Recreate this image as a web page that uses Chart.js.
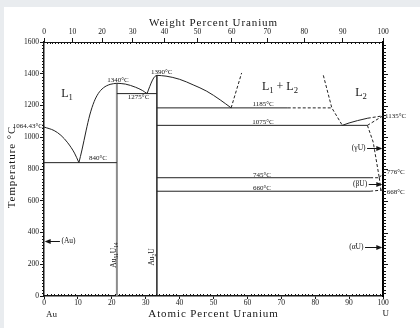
<!DOCTYPE html>
<html>
<head>
<meta charset="utf-8">
<script src="https://cdn.jsdelivr.net/npm/chart.js@4.4.1/dist/chart.umd.min.js"></script>
<style>
    html, body { margin: 0; padding: 0; background: #e9ecef; }
    #wrap { width: 420px; height: 328px; }
</style>
</head>
<body>
<div id="wrap"><canvas id="au-u-chart" width="420" height="328"></canvas></div>
<script>
// Au-U phase diagram data (atomic % U, temperature °C)
const atomicTicks = [0, 10, 20, 30, 40, 50, 60, 70, 80, 90, 100];
const weightTicks = [0, 10, 20, 30, 40, 50, 60, 70, 80, 90, 100];
const tempTicks = [0, 200, 400, 600, 800, 1000, 1200, 1400, 1600];

const auLiqAt = [0, 3, 5, 7, 9, 10.3];
const auLiqT = [1064.43, 1042, 1012, 965, 900, 840];
const au51LiqAt = [10.3, 11.2, 12.4, 13.5, 14.8, 16, 17.5, 19.5, 21.5];
const au51LiqT = [840, 920, 1040, 1140, 1225, 1275, 1311, 1333, 1340];
const au51RightAt = [21.5, 24, 27, 29, 30.4];
const au51RightT = [1340, 1335, 1315, 1295, 1275];
const au2LeftAt = [30.4, 31.2, 32, 32.7, 33.3];
const au2LeftT = [1275, 1320, 1360, 1383, 1390];
const au2RightAt = [33.3, 36, 40, 44, 48, 52, 55.2];
const au2RightT = [1390, 1385, 1365, 1330, 1290, 1235, 1185];
const l2LiqAt = [88, 90, 92.5, 95.5];
const l2LiqT = [1075, 1090, 1105, 1120];

const au51U14At = [21.5, 21.5];
const au51U14T = [0, 1340];
const au2UAt = [33.3, 33.3];
const au2UT = [0, 1390];

const eut840At = [0, 21.5];
const eut1275At = [21.5, 33.3];
const mono1185At = [33.3, 71.9];
const mono1185DashAt = [71.9, 84.9];
const mono1075At = [33.3, 95.4];
const eutd745At = [33.3, 96.2];
const eutd745DashAt = [96.2, 98.9];
const eutd660At = [33.3, 96.2];

const gapLeftAt = [55.2, 58.3];
const gapLeftT = [1185, 1405];
const gapRightAt = [82.4, 84.9, 88];
const gapRightT = [1390, 1185, 1075];
const l2LiqDashAt = [95.5, 100];
const l2LiqDashT = [1120, 1135];
const gSolidusAt = [95.4, 100];
const gSolidusT = [1075, 1135];
const gSolvusAt = [95.4, 97.1, 98.9];
const gSolvusT = [1075, 970, 745];
const gbAt = [98.9, 100];
const gbT = [745, 776];
const bSolvusAt = [98.9, 99.4];
const bSolvusT = [745, 662];
const eutd660DashAt = [96.2, 100];
const eutd660DashT = [660, 668];

const serif = '"Liberation Serif", "DejaVu Serif", serif';
const ink = '#151515';

const AU_MASS = 196.967, U_MASS = 238.029;
function wtToAt(w) {
    if (w >= 100) return 100;
    const nu = w / U_MASS, na = (100 - w) / AU_MASS;
    return 100 * nu / (nu + na);
}

function pts(xs, ys) {
    return xs.map((x, i) => ({ x: x, y: Array.isArray(ys) ? ys[i] : ys }));
}

function line(xs, ys, extra) {
    return Object.assign({
        data: pts(xs, ys),
        showLine: true,
        borderColor: '#222',
        borderWidth: 1,
        pointRadius: 0,
        tension: 0,
        fill: false,
    }, extra || {});
}
const curve = { cubicInterpolationMode: 'monotone' };
const dashed = { borderDash: [3, 2] };

// text annotations: text, atomic %, temperature, align, size
const annotations = [
    ['1064.43°C', -0.3, 1071, 'right', 7],
    ['840°C', 15.9, 869, 'center', 7],
    ['1340°C', 21.8, 1361, 'center', 7],
    ['1275°C', 27.9, 1254, 'center', 7],
    ['1390°C', 34.7, 1413, 'center', 7],
    ['1185°C', 64.6, 1209, 'center', 7],
    ['1075°C', 64.6, 1096, 'center', 7],
    ['745°C', 64.3, 764, 'center', 7],
    ['660°C', 64.3, 678, 'center', 7],
    ['1135°C', 100.6, 1136, 'left', 7],
    ['776°C', 101.1, 777, 'left', 7],
    ['668°C', 101.1, 657, 'left', 7],
    ['L_{1}', 6.8, 1272, 'center', 12],
    ['L_{1} + L_{2}', 69.6, 1317, 'center', 12],
    ['L_{2}', 93.5, 1277, 'center', 12],
];
const rotatedLabels = [
    ['Au_{51}U_{14}', 20.6, 258],
    ['Au_{2}U', 32.0, 246],
];
// solubility arrows: label, from, to, temperature
const arrows = [
    ['(Au)', 4.7, 0.2, 344],
    ['(γU)', 95.3, 99.8, 930],
    ['(βU)', 95.8, 99.8, 703],
    ['(αU)', 94.7, 99.8, 310],
];

function splitRich(text) {
    return text.split(/_\{([^}]*)\}/).map((t, i) => [t, i % 2 === 1]);
}
function richWidth(ctx, parts, size) {
    let w = 0;
    parts.forEach(p => {
        ctx.font = (p[1] ? size * 0.72 : size) + 'px ' + serif;
        w += ctx.measureText(p[0]).width;
    });
    return w;
}
function drawRich(ctx, text, x, y, size, align) {
    const parts = splitRich(text);
    const w = richWidth(ctx, parts, size);
    let cx = align === 'center' ? x - w / 2 : align === 'right' ? x - w : x;
    ctx.textAlign = 'left';
    ctx.textBaseline = 'middle';
    parts.forEach(p => {
        const s = p[1] ? size * 0.72 : size;
        ctx.font = s + 'px ' + serif;
        ctx.fillText(p[0], cx, y + (p[1] ? size * 0.3 : 0));
        cx += ctx.measureText(p[0]).width;
    });
}

const backgroundPlugin = {
    id: 'paper',
    beforeDraw(chart) {
        const ctx = chart.ctx;
        ctx.save();
        ctx.fillStyle = '#e9ecef';
        ctx.fillRect(0, 0, chart.width, chart.height);
        ctx.fillStyle = '#ffffff';
        ctx.fillRect(4, 7, chart.width - 4, chart.height - 7);
        ctx.restore();
    }
};

const diagramPlugin = {
    id: 'diagram',
    afterDraw(chart) {
        const { ctx, chartArea: a, scales: { x, xTop, y } } = chart;
        ctx.save();
        ctx.strokeStyle = ink;
        ctx.fillStyle = ink;
        ctx.lineWidth = 1;

        // minor ticks
        ctx.beginPath();
        for (let v = 1; v < 100; v++) {
            if (v % 10 === 0) continue;
            const px = Math.round(x.getPixelForValue(v)) + 0.5;
            ctx.moveTo(px, a.bottom); ctx.lineTo(px, a.bottom - 2);
            const pt = Math.round(xTop.getPixelForValue(wtToAt(v))) + 0.5;
            ctx.moveTo(pt, a.top); ctx.lineTo(pt, a.top + 2);
        }
        for (let t = 20; t < 1600; t += 20) {
            const py = Math.round(y.getPixelForValue(t)) + 0.5;
            if (t % 200 !== 0) {
                ctx.moveTo(a.left - 2, py); ctx.lineTo(a.left, py);
            }
            const len = t % 200 === 0 ? 5 : 3;
            ctx.moveTo(a.right, py); ctx.lineTo(a.right + len, py);
        }
        ctx.stroke();

        // arrows
        arrows.forEach(([label, from, to, t]) => {
            const py = Math.round(y.getPixelForValue(t)) + 0.5;
            const p0 = x.getPixelForValue(from), p1 = x.getPixelForValue(to);
            const dir = Math.sign(p1 - p0);
            ctx.beginPath();
            ctx.moveTo(p0, py); ctx.lineTo(p1 - dir * 5, py);
            ctx.stroke();
            ctx.beginPath();
            ctx.moveTo(p1, py);
            ctx.lineTo(p1 - dir * 6, py - 2.5);
            ctx.lineTo(p1 - dir * 6, py + 2.5);
            ctx.closePath();
            ctx.fill();
            drawRich(ctx, label, p0 - dir * 1.5, py, 7.5, dir > 0 ? 'right' : 'left');
        });

        // temperature and phase labels
        annotations.forEach(([text, at, t, align, size]) => {
            drawRich(ctx, text, x.getPixelForValue(at), y.getPixelForValue(t), size, align);
        });
        rotatedLabels.forEach(([text, at, t]) => {
            ctx.save();
            ctx.translate(x.getPixelForValue(at), y.getPixelForValue(t));
            ctx.rotate(-Math.PI / 2);
            drawRich(ctx, text, 0, 0, 7.5, 'center');
            ctx.restore();
        });

        // axis titles and element names
        ctx.font = '11px ' + serif;
        ctx.letterSpacing = '0.9px';
        ctx.textAlign = 'center';
        ctx.textBaseline = 'middle';
        const cx = (a.left + a.right) / 2;
        ctx.fillText('Weight Percent Uranium', cx, 23);
        ctx.fillText('Atomic Percent Uranium', cx, 314);
        ctx.save();
        ctx.translate(12, (a.top + a.bottom) / 2 - 2);
        ctx.rotate(-Math.PI / 2);
        ctx.fillText('Temperature °C', 0, 0);
        ctx.restore();
        ctx.letterSpacing = '0px';
        ctx.font = '9px ' + serif;
        ctx.textAlign = 'left';
        ctx.fillText('Au', x.getPixelForValue(0.6), 315);
        ctx.textAlign = 'center';
        ctx.fillText('U', x.getPixelForValue(100.8), 314);
        ctx.restore();
    }
};

const tickFont = { family: serif, size: 7.5 };

const chart = new Chart(document.getElementById('au-u-chart').getContext('2d'), {
    type: 'scatter',
    data: {
        datasets: [
            line(auLiqAt, auLiqT, curve),
            line(au51LiqAt, au51LiqT, curve),
            line(au51RightAt, au51RightT, curve),
            line(au2LeftAt, au2LeftT, curve),
            line(au2RightAt, au2RightT, curve),
            line(l2LiqAt, l2LiqT, curve),
            line(eut840At, 840),
            line(eut1275At, 1275),
            line(mono1185At, 1185),
            line(mono1185DashAt, 1185, dashed),
            line(mono1075At, 1075),
            line(eutd745At, 745),
            line(eutd745DashAt, 745, dashed),
            line(eutd660At, 660),
            line(eutd660DashAt, eutd660DashT, dashed),
            line(gapLeftAt, gapLeftT, dashed),
            line(gapRightAt, gapRightT, dashed),
            line(l2LiqDashAt, l2LiqDashT, dashed),
            line(gSolidusAt, gSolidusT, dashed),
            line(gSolvusAt, gSolvusT, dashed),
            line(gbAt, gbT, dashed),
            line(bSolvusAt, bSolvusT, dashed),
            line(au51U14At, au51U14T, { borderColor: '#8c8c8c', borderWidth: 2 }),
            line(au2UAt, au2UT, { borderColor: '#222', borderWidth: 1.5 }),
        ]
    },
    options: {
        responsive: false,
        animation: false,
        events: [],
        layout: { padding: 0 },
        plugins: {
            legend: { display: false },
            tooltip: { enabled: false }
        },
        scales: {
            x: {
                type: 'linear',
                position: 'bottom',
                min: 0,
                max: 100,
                afterBuildTicks: s => { s.ticks = atomicTicks.map(v => ({ value: v })); },
                ticks: { font: tickFont, color: ink, padding: 0, maxRotation: 0, autoSkip: false,
                    callback: value => String(value) },
                grid: { drawOnChartArea: false, tickLength: 3, color: ink },
                border: { color: ink, width: 1.5 },
                afterFit: s => { s.height = 32; }
            },
            xTop: {
                type: 'linear',
                position: 'top',
                min: 0,
                max: 100,
                afterBuildTicks: s => { s.ticks = weightTicks.map(w => ({ value: wtToAt(w) })); },
                ticks: {
                    font: tickFont, color: ink, padding: 1, maxRotation: 0, autoSkip: false,
                    callback: (value, index) => String(weightTicks[index])
                },
                grid: { drawOnChartArea: false, tickLength: 4, color: ink },
                border: { color: ink, width: 1 },
                afterFit: s => { s.height = 42; }
            },
            y: {
                type: 'linear',
                position: 'left',
                min: 0,
                max: 1600,
                afterBuildTicks: s => { s.ticks = tempTicks.map(v => ({ value: v })); },
                ticks: { font: tickFont, color: ink, padding: 1, callback: value => String(value) },
                grid: { drawOnChartArea: false, tickLength: 4, color: ink },
                border: { color: ink, width: 1.5 },
                afterFit: s => { s.width = 44; }
            },
            yRight: {
                type: 'linear',
                position: 'right',
                min: 0,
                max: 1600,
                ticks: { display: false },
                grid: { display: false },
                border: { color: '#000', width: 2 },
                afterFit: s => { s.width = 37; }
            }
        }
    },
    plugins: [backgroundPlugin, diagramPlugin]
});
</script>
</body>
</html>
